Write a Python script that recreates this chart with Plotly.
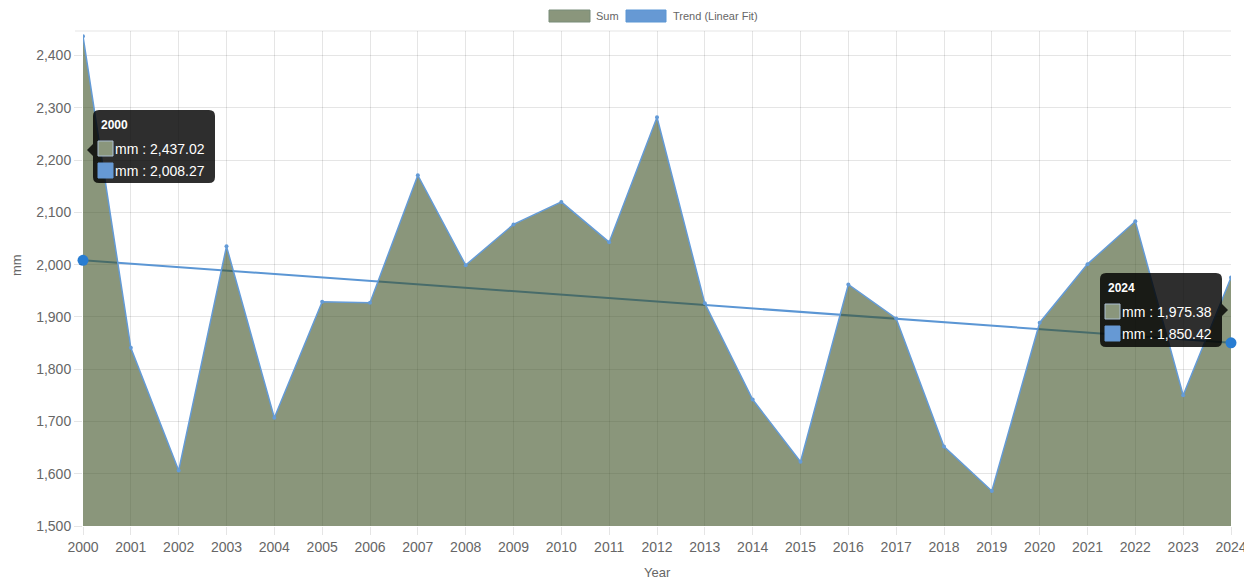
import plotly.graph_objects as go

years = list(range(2000, 2025))
sum_mm = [2437.02, 1841, 1606, 2035, 1707, 1929, 1927, 2171, 1999, 2077,
          2120, 2043, 2282, 1926, 1742, 1623, 1962, 1897, 1652, 1567,
          1889, 2001, 2083, 1750, 1975.38]
trend_years = [2000, 2024]
trend_mm = [2008.27, 1850.42]
y_ticks = [1500, 1600, 1700, 1800, 1900, 2000, 2100, 2200, 2300, 2400]

# page has an 8px body margin: figure is offset by (8, 8) on screen
OFF = 8
W, H = 1252 - OFF, 580 - OFF
# plot area in screen pixels
L, R, T, B = 83, 1231, 31, 526

def px(x):
    return (x - L) / (R - L)

def py(y):
    return (B - y) / (B - T)

FONT = "Liberation Sans, Arial, Helvetica, sans-serif"
SUM_FILL = "rgba(60,80,35,0.6)"
SUM_SWATCH = "rgb(138,150,124)"
SUM_LINE = "rgba(100,155,215,1)"
TREND = "rgb(91,150,212)"

fig = go.Figure()
fig.add_trace(go.Scatter(x=trend_years, y=trend_mm, mode="lines",
                         line=dict(color=TREND, width=2), name="Trend (Linear Fit)",
                         showlegend=False, hoverinfo="skip", cliponaxis=False))
fig.add_trace(go.Scatter(x=years, y=sum_mm, mode="lines+markers", fill="tozeroy",
                         fillcolor=SUM_FILL, line=dict(color=SUM_LINE, width=1.5),
                         marker=dict(size=4, color=SUM_LINE), name="Sum",
                         showlegend=False, hoverinfo="skip"))
fig.add_trace(go.Scatter(x=trend_years, y=trend_mm, mode="markers",
                         marker=dict(size=11, color="rgb(40,125,210)"),
                         showlegend=False, hoverinfo="skip", cliponaxis=False))

shapes = []
annotations = []

# top border line
shapes.append(dict(type="line", xref="paper", yref="paper", x0=px(75), x1=1, y0=1, y1=1,
                   line=dict(color="rgba(0,0,0,0.1)", width=1)))

# custom legend
shapes.append(dict(type="rect", xref="paper", yref="paper", x0=px(549), x1=px(590),
                   y0=py(22), y1=py(10), fillcolor=SUM_SWATCH, line=dict(color="rgb(120,140,120)", width=1)))
shapes.append(dict(type="rect", xref="paper", yref="paper", x0=px(626), x1=px(666),
                   y0=py(22), y1=py(10), fillcolor="rgb(102,153,212)", line=dict(color="rgb(91,150,212)", width=1)))
annotations.append(dict(xref="paper", yref="paper", x=px(594), y=py(16), text="Sum",
                        showarrow=False, xanchor="left", yanchor="middle",
                        font=dict(family=FONT, size=11, color="#666")))
annotations.append(dict(xref="paper", yref="paper", x=px(671), y=py(16), text="Trend (Linear Fit)",
                        showarrow=False, xanchor="left", yanchor="middle",
                        font=dict(family=FONT, size=11, color="#666")))

# axis titles as annotations
annotations.append(dict(xref="paper", yref="paper", x=px(657), y=py(572), text="Year",
                        showarrow=False, xanchor="center", yanchor="middle",
                        font=dict(family=FONT, size=13, color="#666")))
annotations.append(dict(xref="paper", yref="paper", x=px(16), y=py(265), text="mm", textangle=-90,
                        showarrow=False, xanchor="center", yanchor="middle",
                        font=dict(family=FONT, size=13, color="#666")))

def rounded_path(x0, y0, x1, y1, r):
    pts = [
        f"M {px(x0 + r)} {py(y0)}",
        f"L {px(x1 - r)} {py(y0)}",
        f"Q {px(x1)} {py(y0)} {px(x1)} {py(y0 + r)}",
        f"L {px(x1)} {py(y1 - r)}",
        f"Q {px(x1)} {py(y1)} {px(x1 - r)} {py(y1)}",
        f"L {px(x0 + r)} {py(y1)}",
        f"Q {px(x0)} {py(y1)} {px(x0)} {py(y1 - r)}",
        f"L {px(x0)} {py(y0 + r)}",
        f"Q {px(x0)} {py(y0)} {px(x0 + r)} {py(y0)}",
        "Z",
    ]
    return " ".join(pts)

# tooltips
def tooltip(x0, y0, x1, y1, title, v1, v2, caret):
    shapes.append(dict(type="path", xref="paper", yref="paper", path=rounded_path(x0, y0, x1, y1, 6),
                       fillcolor="rgba(0,0,0,0.82)", line=dict(width=0)))
    cy = (y0 + y1) / 2 if caret == "right" else y0 + 40
    if caret == "left":
        path = f"M {px(x0)} {py(cy-6)} L {px(x0-6)} {py(cy)} L {px(x0)} {py(cy+6)} Z"
    else:
        path = f"M {px(x1)} {py(cy-6)} L {px(x1+6)} {py(cy)} L {px(x1)} {py(cy+6)} Z"
    shapes.append(dict(type="path", xref="paper", yref="paper", path=path,
                       fillcolor="rgba(0,0,0,0.82)", line=dict(width=0)))
    shapes.append(dict(type="rect", xref="paper", yref="paper", x0=px(x0 + 5), x1=px(x0 + 20),
                       y0=py(y0 + 46), y1=py(y0 + 31), fillcolor=SUM_SWATCH,
                       line=dict(color="rgb(170,190,210)", width=1)))
    shapes.append(dict(type="rect", xref="paper", yref="paper", x0=px(x0 + 5), x1=px(x0 + 20),
                       y0=py(y0 + 68), y1=py(y0 + 53), fillcolor="rgb(102,153,212)",
                       line=dict(color="rgb(102,153,212)", width=1)))
    annotations.append(dict(xref="paper", yref="paper", x=px(x0 + 6), y=py(y0 + 15), text=f"<b>{title}</b>",
                            showarrow=False, xanchor="left", yanchor="middle",
                            font=dict(family=FONT, size=12, color="white")))
    annotations.append(dict(xref="paper", yref="paper", x=px(x0 + 20), y=py(y0 + 39), text=f"mm : {v1}",
                            showarrow=False, xanchor="left", yanchor="middle",
                            font=dict(family=FONT, size=14, color="white")))
    annotations.append(dict(xref="paper", yref="paper", x=px(x0 + 20), y=py(y0 + 61), text=f"mm : {v2}",
                            showarrow=False, xanchor="left", yanchor="middle",
                            font=dict(family=FONT, size=14, color="white")))

tooltip(93, 110, 215, 183, "2000", f"{sum_mm[0]:,.2f}", f"{trend_mm[0]:,.2f}", "left")
tooltip(1100, 273, 1222, 347, "2024", f"{sum_mm[-1]:,.2f}", f"{trend_mm[-1]:,.2f}", "right")

grid = "rgba(0,0,0,0.1)"
fig.update_layout(
    width=W, height=H,
    margin=dict(l=L - OFF, r=(W + OFF) - R, t=T - OFF, b=(H + OFF) - B, autoexpand=False),
    paper_bgcolor="white", plot_bgcolor="white",
    font=dict(family=FONT, color="#666", size=14),
    showlegend=False,
    xaxis=dict(range=[2000, 2024], tickmode="array", tickvals=years,
               ticktext=[str(y) for y in years], showgrid=True, gridcolor=grid,
               ticks="outside", ticklen=8, tickcolor=grid, zeroline=False,
               showline=False, tickfont=dict(size=14, color="#666"), automargin=False),
    yaxis=dict(range=[1500, 2447], tickmode="array", tickvals=y_ticks,
               ticktext=[f"{v:,}" for v in y_ticks], showgrid=True, gridcolor=grid,
               ticks="outside", ticklen=8, tickcolor=grid, zeroline=False,
               showline=False, tickfont=dict(size=14, color="#666"), automargin=False),
    shapes=shapes, annotations=annotations,
)

fig.write_html("out.html")
